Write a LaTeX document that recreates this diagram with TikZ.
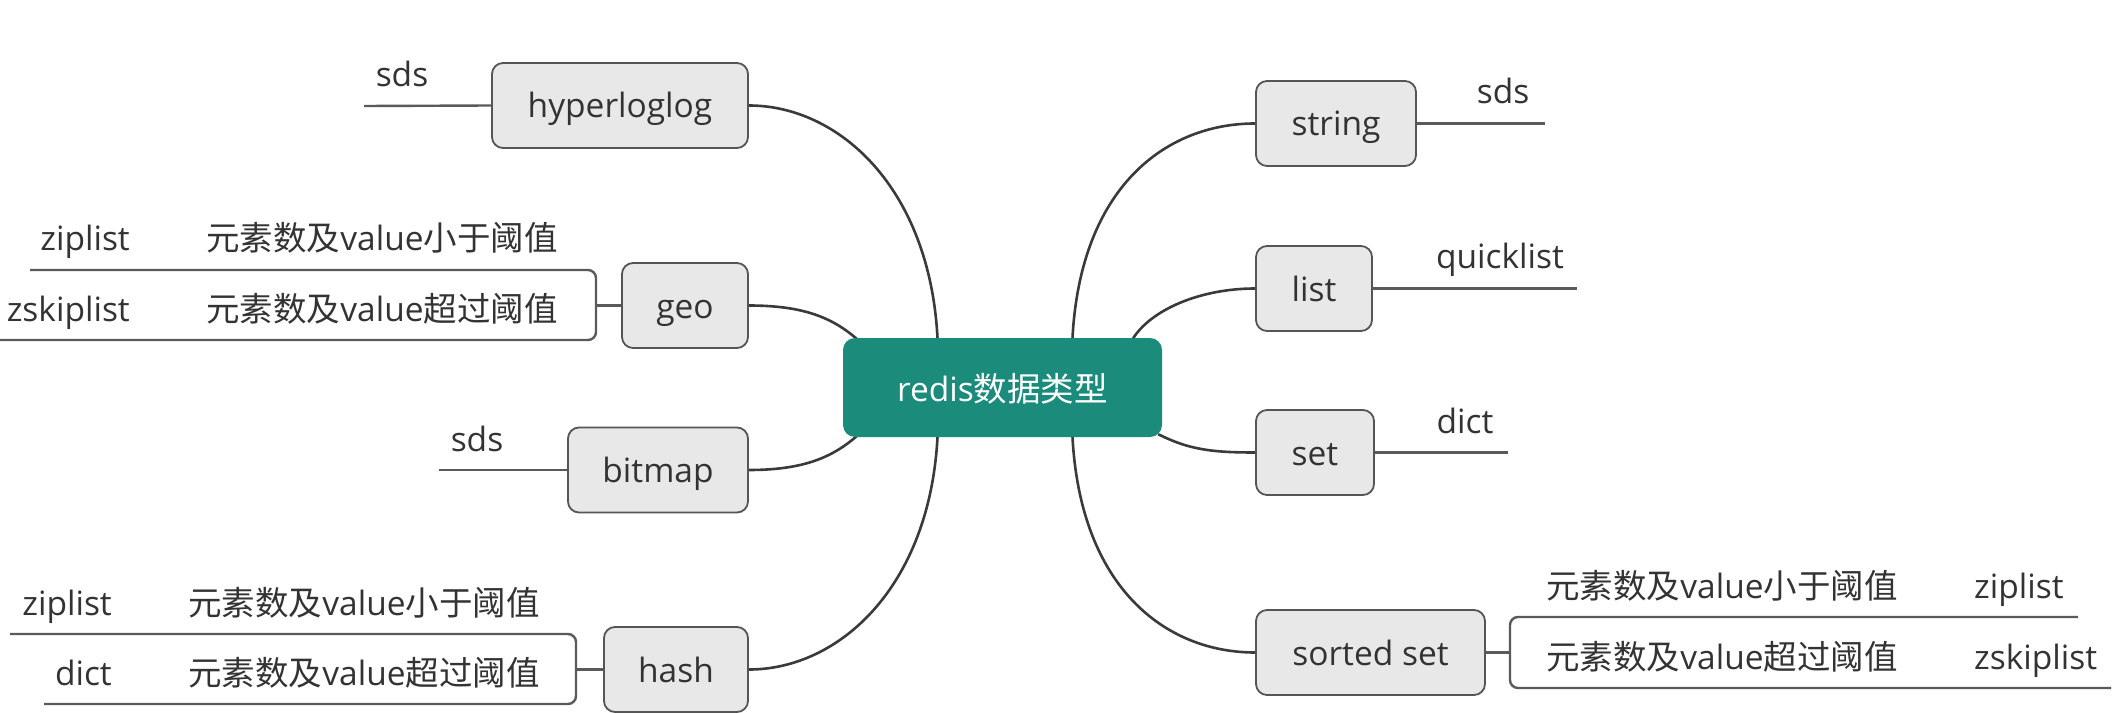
\documentclass[tikz,border=0pt]{standalone}
\usepackage{fontspec}
\setmainfont{Open Sans}
\newfontfamily\cjkfont{Noto Sans CJK SC}
\newcommand\zhtxt[1]{{\cjkfont #1}}
\usetikzlibrary{calc,backgrounds}
\definecolor{boxfill}{HTML}{E8E8E8}
\definecolor{boxdraw}{HTML}{555555}
\definecolor{rootfill}{HTML}{1B8B7C}
\definecolor{linecol}{HTML}{3A3A3A}
\definecolor{subcol}{HTML}{5A5A5A}
\definecolor{txtcol}{HTML}{333333}
\tikzset{
  topic/.style={draw=boxdraw, fill=boxfill, line width=1.8pt, rounded corners=11pt,
    minimum height=85pt, inner sep=0pt, text=txtcol, text height=27pt, text depth=2pt,
    font=\fontsize{33.5}{40}\selectfont},
  rootbox/.style={fill=rootfill, rounded corners=12pt, minimum width=319pt,
    minimum height=99pt, inner sep=0pt, text=white, text height=29pt, text depth=2pt,
    font=\fontsize{33.5}{40}\selectfont},
  lbl/.style={anchor=base, inner sep=0pt, text=txtcol, font=\fontsize{33.5}{40}\selectfont},
  conn/.style={draw=linecol, line width=2.6pt},
  sub/.style={draw=subcol, line width=2.4pt},
}
\begin{document}
\begin{tikzpicture}[x=1pt,y=-1pt]
\useasboundingbox (0,0) rectangle (2118,714);
% root
\node[rootbox] (root) at (1002.5,387.5) {redis\zhtxt{数据类型}};
% left topics
\node[topic, minimum width=256pt] (hyper) at (620,105.5) {hyperloglog};
\node[topic, minimum width=126pt] (geo) at (685,305.5) {geo};
\node[topic, minimum width=180pt] (bitmap) at (658,470) {bitmap};
\node[topic, minimum width=144pt] (hash) at (676,669.5) {hash};
% right topics
\node[topic, minimum width=160pt] (string) at (1336,123.5) {string};
\node[topic, minimum width=116pt] (list) at (1314,288.5) {list};
\node[topic, minimum width=118pt] (set) at (1315,452.5) {set};
\node[topic, minimum width=229pt] (sorted) at (1370.5,652.5) {sorted set};

% connectors
\begin{scope}[on background layer]
\draw[conn] (hyper.east) .. controls +(90,0) and +(-8,-150) .. ($(root.north)+(-65,0)$);
\draw[conn] (geo.east) .. controls +(55,0) and +(-25,-22) .. ($(root.north west)+(15,2)$);
\draw[conn] (bitmap.east) .. controls +(55,0) and +(-25,22) .. ($(root.south west)+(15,-2)$);
\draw[conn] (hash.east) .. controls +(90,0) and +(-8,150) .. ($(root.south)+(-65,0)$);
\draw[conn] ($(root.north)+(70,0)$) .. controls +(8,-150) and +(-90,0) .. (string.west);
\draw[conn] ($(root.north east)+(-30,2)$) .. controls +(18,-30) and +(-55,0) .. (list.west);
\draw[conn] ($(root.south east)+(-4,-3)$) .. controls +(30,15) and +(-45,0) .. (set.west);
\draw[conn] ($(root.south)+(70,0)$) .. controls +(8,150) and +(-90,0) .. (sorted.west);
\end{scope}

% simple sub lines
\coordinate (hyperEnd) at (364,106);
\coordinate (bitmapEnd) at (439,470);
\coordinate (stringEnd) at (1545,123.5);
\coordinate (listEnd) at (1577,288.5);
\coordinate (setEnd) at (1508,452.5);
\draw[sub] (hyper.west) -- (hyperEnd);
\draw[sub] (bitmap.west) -- (bitmapEnd);
\draw[sub] (string.east) -- (stringEnd);
\draw[sub] (list.east) -- (listEnd);
\draw[sub] (set.east) -- (setEnd);

\node[lbl] (sdsA) at (402,87) {sds};
\node[lbl] (sdsB) at (477,451) {sds};
\node[lbl] (sdsC) at (1503,104) {sds};
\node[lbl] (quick) at (1500,269) {quicklist};
\node[lbl] (dictA) at (1465,433) {dict};

% geo bracket
\coordinate (geoJ) at (596,305.5);
\coordinate (geoT) at (30,270);
\coordinate (geoB) at (0,340);
\draw[sub] (geo.west) -- (geoJ);
\draw[sub, rounded corners=8pt] (geoT) -- (geoT -| geoJ) -- (geoB -| geoJ) -- (geoB);
\node[lbl, anchor=base east] (gz) at (130,251) {ziplist};
\node[lbl] (gzc) at (382,251) {\zhtxt{元素数及}value\zhtxt{小于阈值}};
\node[lbl, anchor=base east] (gs) at (130,321) {zskiplist};
\node[lbl] (gsc) at (382,321) {\zhtxt{元素数及}value\zhtxt{超过阈值}};

% hash bracket
\coordinate (hashJ) at (576,669.5);
\coordinate (hashT) at (10,634);
\coordinate (hashB) at (44,704);
\draw[sub] (hash.west) -- (hashJ);
\draw[sub, rounded corners=8pt] (hashT) -- (hashT -| hashJ) -- (hashB -| hashJ) -- (hashB);
\node[lbl, anchor=base east] (hz) at (112,615) {ziplist};
\node[lbl] (hzc) at (364,615) {\zhtxt{元素数及}value\zhtxt{小于阈值}};
\node[lbl, anchor=base east] (hd) at (112,685) {dict};
\node[lbl] (hdc) at (364,685) {\zhtxt{元素数及}value\zhtxt{超过阈值}};

% sorted set bracket
\coordinate (sortJ) at (1510,652.5);
\coordinate (sortT) at (2078,617);
\coordinate (sortB) at (2111,688);
\draw[sub] (sorted.east) -- (sortJ);
\draw[sub, rounded corners=8pt] (sortT) -- (sortT -| sortJ) -- (sortB -| sortJ) -- (sortB);
\node[lbl] (szc) at (1722,598) {\zhtxt{元素数及}value\zhtxt{小于阈值}};
\node[lbl, anchor=base west] (sz) at (1974,598) {ziplist};
\node[lbl] (ssc) at (1722,669) {\zhtxt{元素数及}value\zhtxt{超过阈值}};
\node[lbl, anchor=base west] (ss) at (1974,669) {zskiplist};
\end{tikzpicture}
\end{document}
